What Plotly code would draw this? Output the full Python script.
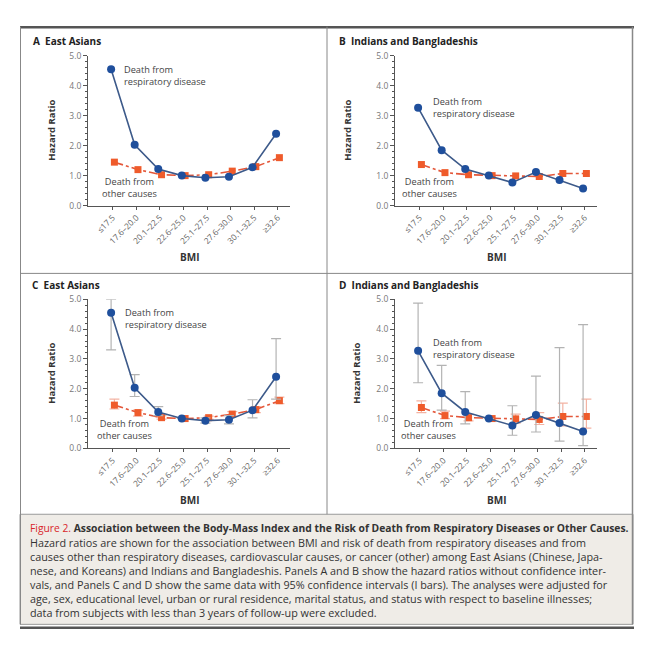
import plotly.graph_objects as go

# ---------------- data ----------------
categories = ["≤17.5", "17.6–20.0", "20.1–22.5", "22.6–25.0",
              "25.1–27.5", "27.6–30.0", "30.1–32.5", "≥32.6"]
y_ticks = [0, 1, 2, 3, 4, 5]

# East Asians
ea_resp = [4.55, 2.03, 1.22, 1.00, 0.93, 0.96, 1.28, 2.40]
ea_other = [1.45, 1.20, 1.03, 1.00, 1.03, 1.15, 1.30, 1.60]
ea_resp_lo = [3.30, 1.74, 1.10, 1.00, 0.85, 0.82, 1.02, 1.65]
ea_resp_hi = [5.00, 2.47, 1.40, 1.00, 1.02, 1.10, 1.63, 3.68]
ea_other_lo = [1.32, 1.08, 0.98, 1.00, 0.97, 1.08, 1.20, 1.50]
ea_other_hi = [1.65, 1.28, 1.10, 1.00, 1.08, 1.23, 1.40, 1.72]

# Indians and Bangladeshis
ib_resp = [3.27, 1.85, 1.22, 1.00, 0.77, 1.12, 0.85, 0.57]
ib_other = [1.37, 1.10, 1.03, 1.00, 0.99, 0.97, 1.07, 1.07]
ib_resp_lo = [2.20, 1.28, 0.82, 1.00, 0.44, 0.55, 0.24, 0.09]
ib_resp_hi = [4.87, 2.78, 1.90, 1.00, 1.43, 2.42, 3.38, 4.15]
ib_other_lo = [1.20, 1.00, 0.92, 1.00, 0.85, 0.80, 0.75, 0.68]
ib_other_hi = [1.59, 1.25, 1.14, 1.00, 1.15, 1.20, 1.52, 1.65]

caption_lines = [
    "<span style='color:#d9262b'>Figure 2.</span> <b>Association between the Body-Mass Index and the Risk of Death from Respiratory Diseases or Other Causes.</b>",
    "Hazard ratios are shown for the association between BMI and risk of death from respiratory diseases and from",
    "causes other than respiratory diseases, cardiovascular causes, or cancer (other) among East Asians (Chinese, Japa-",
    "nese, and Koreans) and Indians and Bangladeshis. Panels A and B show the hazard ratios without confidence inter-",
    "vals, and Panels C and D show the same data with 95% confidence intervals (I bars). The analyses were adjusted for",
    "age, sex, educational level, urban or rural residence, marital status, and status with respect to baseline illnesses;",
    "data from subjects with less than 3 years of follow-up were excluded.",
]

# ---------------- layout helpers ----------------
W, H = 649, 650
FONT = "Open Sans"


def px(x):
    return x / W


def py(y):
    return 1 - y / H


BLUE_LINE = "#3d5a8a"
BLUE_MARK = "#1f4f9c"
RED_LINE = "#e4573a"
RED_MARK = "#ef5b2b"
OFFSET = 0.07

fig = go.Figure()

panels = [
    dict(letter="A", title="East Asians", resp=ea_resp, other=ea_other, ci=None,
         xpx=(88, 290), ypx=(203, 50.7), tpos=(31, 36), ylab_x=52,
         resp_txt=(0.39, 4.33), oth_txt=(0.73, 0.61)),
    dict(letter="B", title="Indians and Bangladeshis", resp=ib_resp, other=ib_other, ci=None,
         xpx=(395, 597), ypx=(203, 50.7), tpos=(337, 36), ylab_x=348,
         resp_txt=(0.48, 3.28), oth_txt=(0.43, 0.62)),
    dict(letter="C", title="East Asians", resp=ea_resp, other=ea_other,
         ci=(ea_resp_lo, ea_resp_hi, ea_other_lo, ea_other_hi),
         xpx=(88, 290), ypx=(450, 298.3), tpos=(30, 284), ylab_x=52,
         resp_txt=(0.43, 4.34), oth_txt=(0.48, 0.63)),
    dict(letter="D", title="Indians and Bangladeshis", resp=ib_resp, other=ib_other,
         ci=(ib_resp_lo, ib_resp_hi, ib_other_lo, ib_other_hi),
         xpx=(395, 597), ypx=(450, 298.3), tpos=(337, 284), ylab_x=357,
         resp_txt=(0.48, 3.35), oth_txt=(0.39, 0.63)),
]

annotations = []
idx = list(range(len(categories)))

for i, p in enumerate(panels, start=1):
    xa = "x" if i == 1 else f"x{i}"
    ya = "y" if i == 1 else f"y{i}"
    xr_key = "xaxis" if i == 1 else f"xaxis{i}"
    yr_key = "yaxis" if i == 1 else f"yaxis{i}"

    err_r = err_o = None
    if p["ci"] is not None:
        rlo, rhi, olo, ohi = p["ci"]
        err_r = dict(type="data", symmetric=False,
                     array=[h - v for h, v in zip(rhi, p["resp"])],
                     arrayminus=[v - l for v, l in zip(p["resp"], rlo)],
                     color="#b3b3b3", thickness=1.2, width=5)
        err_o = dict(type="data", symmetric=False,
                     array=[h - v for h, v in zip(ohi, p["other"])],
                     arrayminus=[v - l for v, l in zip(p["other"], olo)],
                     color="#f3b3a3", thickness=1.2, width=5)

    fig.add_trace(go.Scatter(
        x=[k + OFFSET for k in idx], y=p["other"], xaxis=xa, yaxis=ya,
        mode="lines+markers", error_y=err_o,
        line=dict(color=RED_LINE, width=1.6, dash="dashdot"),
        marker=dict(symbol="square", size=7, color=RED_MARK),
        showlegend=False, cliponaxis=False, hoverinfo="skip"))
    fig.add_trace(go.Scatter(
        x=[k - OFFSET for k in idx], y=p["resp"], xaxis=xa, yaxis=ya,
        mode="lines+markers", error_y=err_r,
        line=dict(color=BLUE_LINE, width=1.6),
        marker=dict(symbol="circle", size=8, color=BLUE_MARK),
        showlegend=False, cliponaxis=False, hoverinfo="skip"))

    x0, x1 = p["xpx"]
    yb, yt = p["ypx"]
    fig.update_layout(**{
        xr_key: dict(domain=[px(x0), px(x1)], anchor=ya, range=[-1.05, 7.52],
                     tickmode="array", tickvals=idx, ticktext=categories,
                     tickangle=-45, showline=True, linecolor="#555", linewidth=1,
                     ticks="outside", ticklen=3, tickcolor="#555",
                     showgrid=False, zeroline=False, fixedrange=True,
                     tickfont=dict(family=FONT, size=8.3, color="#666")),
        yr_key: dict(domain=[py(yb), py(yt)], anchor=xa, range=[0, 5],
                     tickmode="array", tickvals=y_ticks,
                     ticktext=[f"{v:.1f}" for v in y_ticks],
                     showline=True, linecolor="#555", linewidth=1,
                     ticks="outside", ticklen=4, tickcolor="#555",
                     minor=dict(dtick=0.2, ticks="outside", ticklen=2, tickcolor="#555"),
                     showgrid=False, zeroline=False, fixedrange=True,
                     tickfont=dict(family=FONT, size=8.5, color="#777")),
    })

    tx, ty = p["tpos"]
    annotations.append(dict(
        x=px(tx), y=py(ty), xref="paper", yref="paper", xanchor="left", yanchor="middle",
        text=f"<b>{p['letter']}</b>&nbsp;&nbsp;<b>{p['title']}</b>", showarrow=False,
        font=dict(family=FONT, size=10, color="#222")))
    annotations.append(dict(
        x=px((x0 + x1) / 2), y=py(yb + 52), xref="paper", yref="paper",
        text="<b>BMI</b>", showarrow=False, xanchor="center", yanchor="middle",
        font=dict(family=FONT, size=10, color="#333")))
    annotations.append(dict(
        x=px(p["ylab_x"]), y=py((yb + yt) / 2), xref="paper", yref="paper",
        text="<b>Hazard Ratio</b>", showarrow=False, textangle=-90,
        xanchor="center", yanchor="middle",
        font=dict(family=FONT, size=9.5, color="#333")))
    rx, ry = p["resp_txt"]
    annotations.append(dict(
        x=rx, y=ry, xref=xa, yref=ya, xanchor="left", yanchor="middle", align="left",
        text="Death from<br>respiratory disease", showarrow=False,
        font=dict(family=FONT, size=9.2, color="#444")))
    ox, oy = p["oth_txt"]
    annotations.append(dict(
        x=ox, y=oy, xref=xa, yref=ya, xanchor="center", yanchor="middle", align="center",
        text="Death from<br>other causes", showarrow=False,
        font=dict(family=FONT, size=9.2, color="#444")))

for k, line in enumerate(caption_lines):
    annotations.append(dict(
        x=px(29), y=py(531 + k * 14.3), xref="paper", yref="paper",
        xanchor="left", yanchor="middle", align="left", text=line, showarrow=False,
        borderpad=0,
        font=dict(family=FONT, size=10.3 if k == 0 else 10.8, color="#333")))

shapes = [
    dict(type="rect", xref="paper", yref="paper", x0=px(20), x1=px(633), y0=py(629), y1=py(517),
         fillcolor="#efece7", line=dict(color="#999", width=1), layer="below"),
    dict(type="line", xref="paper", yref="paper", x0=px(20), x1=px(634), y0=py(21.5), y1=py(21.5),
         line=dict(color="#555", width=2.5)),
    dict(type="line", xref="paper", yref="paper", x0=px(20.5), x1=px(20.5), y0=py(21), y1=py(629),
         line=dict(color="#888", width=1)),
    dict(type="line", xref="paper", yref="paper", x0=px(632.5), x1=px(632.5), y0=py(21), y1=py(629),
         line=dict(color="#888", width=1.5)),
    dict(type="line", xref="paper", yref="paper", x0=px(327), x1=px(327), y0=py(21), y1=py(517),
         line=dict(color="#888", width=1)),
    dict(type="line", xref="paper", yref="paper", x0=px(20), x1=px(633), y0=py(272), y1=py(272),
         line=dict(color="#888", width=1)),
    dict(type="line", xref="paper", yref="paper", x0=px(20), x1=px(634), y0=py(632.5), y1=py(632.5),
         line=dict(color="#555", width=2.5)),
]

fig.update_layout(
    width=W, height=H, margin=dict(l=0, r=0, t=0, b=0),
    paper_bgcolor="white", plot_bgcolor="white",
    annotations=annotations, shapes=shapes, showlegend=False,
    font=dict(family=FONT), hovermode=False, dragmode=False,
)

fig.write_html("out.html", config={"displayModeBar": False, "staticPlot": True},
               post_script="document.body.style.margin='0';document.body.style.overflow='hidden';")
